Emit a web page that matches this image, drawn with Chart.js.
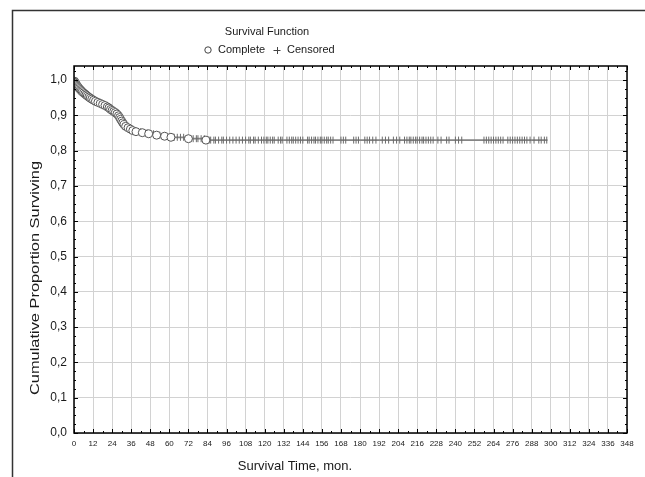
<!DOCTYPE html>
<html>
<head>
<meta charset="utf-8">
<script src="https://cdn.jsdelivr.net/npm/chart.js@4"></script>
<style>
  body { margin: 0; background: #fff; }
  canvas { display: block; }
</style>
</head>
<body>
<canvas id="chart" width="645" height="477"></canvas>
<script>
// complete (event) times in months and the survival estimate after each one
const eventTimes = [0.3, 0.6, 1, 1.4, 1.8, 2.3, 2.8, 3.3, 4, 4.6, 5.2, 6, 6.8, 7.6, 8.4, 9.3, 10.2, 11.2, 12.3, 13.5,
  15, 16.5, 18, 19.5, 21, 22, 23, 24, 25, 26, 27, 28, 28.7, 29.3, 30, 30.7, 31.5, 32.5, 34, 35.5,
  37, 39, 43, 47, 52, 57, 61, 72, 83];
const eventSurvival = [0.997, 0.994, 0.991, 0.988, 0.985, 0.982, 0.979, 0.976, 0.973, 0.970, 0.967, 0.964, 0.961, 0.958, 0.955, 0.952, 0.949, 0.946, 0.943, 0.940,
  0.937, 0.934, 0.931, 0.928, 0.924, 0.921, 0.917, 0.914, 0.911, 0.908, 0.904, 0.899, 0.894, 0.889, 0.884, 0.879, 0.874, 0.869, 0.865, 0.861,
  0.857, 0.854, 0.851, 0.848, 0.844, 0.841, 0.838, 0.834, 0.830];

// censored times in months
const censoredTimes = [42, 44, 46, 50, 54, 57, 61, 63, 65, 67, 69, 75, 77, 78, 80, 82, 85, 86, 88, 89, 91, 93, 94, 96, 98, 100,
  102, 104, 106, 108, 110, 111, 113, 114, 116, 118, 119.5, 121, 122, 123.5, 125, 126, 128.5, 130, 131,
  134, 135.5, 137, 138, 139.5, 141, 142.5, 144, 147, 148, 149.5, 151, 152, 153.5, 155, 156, 157.5, 159, 160, 161.5, 163,
  168, 169.5, 171, 176, 177.5, 179, 183, 184.5, 186, 188, 190, 194, 196, 198, 201, 203, 205,
  208, 209.5, 211, 212, 213.5, 215, 216, 217.5, 219, 220, 221.5, 223, 224.5, 226, 229, 231, 234.5, 236, 240, 242, 244,
  258, 259.5, 261, 262.5, 264, 265.5, 267, 268.5, 270, 273, 274.5, 276, 277.5, 279, 280.5, 282, 283.5, 285,
  287, 289.5, 292.5, 294, 296, 297.5];
const followUpEnd = 298;

const chartTitle = "Survival Function";
const legendLabels = ["Complete", "Censored"];
const xTitle = "Survival Time, mon.";
const yTitle = "Cumulative Proportion Surviving";

function survivalAt(t) {
  let s = 1;
  for (let i = 0; i < eventTimes.length; i++) {
    if (eventTimes[i] <= t) s = eventSurvival[i];
  }
  return s;
}

const curvePoints = [{ x: 0, y: 1 }]
  .concat(eventTimes.map((t, i) => ({ x: t, y: eventSurvival[i] })))
  .concat([{ x: followUpEnd, y: eventSurvival[eventSurvival.length - 1] }]);
const completePoints = eventTimes.map((t, i) => ({ x: t, y: eventSurvival[i] }));
const censoredPoints = censoredTimes.map(t => ({ x: t, y: survivalAt(t) }));

const FONT = "'Liberation Sans', Arial, sans-serif";
const TEXT = "#1a1a1a";

const decor = {
  id: "decor",
  beforeDraw(chart) {
    const ctx = chart.ctx;
    ctx.save();
    ctx.fillStyle = "#fff";
    ctx.fillRect(0, 0, chart.width, chart.height);
    ctx.strokeStyle = "#333";
    ctx.lineWidth = 1.5;
    ctx.strokeRect(12.5, 10.5, 700, 600);
    ctx.restore();
  },
  afterDraw(chart) {
    const { ctx, chartArea: a, scales: { x, y } } = chart;
    ctx.save();
    ctx.strokeStyle = "#000";
    ctx.lineWidth = 1;
    ctx.beginPath();
    for (let v = 0; v <= x.max; v += 6) {
      const px = Math.round(x.getPixelForValue(v)) + 0.5;
      const len = v % 12 === 0 ? 4 : 2;
      ctx.moveTo(px, a.bottom); ctx.lineTo(px, a.bottom - len);
      ctx.moveTo(px, a.top); ctx.lineTo(px, a.top + len);
    }
    for (let i = 0; i * 0.025 <= y.max; i++) {
      const py = Math.round(y.getPixelForValue(i * 0.025)) + 0.5;
      const len = i % 4 === 0 ? 4 : 2;
      ctx.moveTo(a.left, py); ctx.lineTo(a.left + len, py);
      ctx.moveTo(a.right, py); ctx.lineTo(a.right - len, py);
    }
    ctx.stroke();
    ctx.lineWidth = 1.5;
    ctx.strokeRect(a.left, a.top, a.right - a.left, a.bottom - a.top);

    // title and legend
    ctx.fillStyle = TEXT;
    ctx.font = "11px " + FONT;
    ctx.textAlign = "center";
    ctx.textBaseline = "middle";
    ctx.fillText(chartTitle, 267, 32);

    ctx.textAlign = "left";
    const ly = 50;
    ctx.beginPath();
    ctx.arc(208, ly, 3.2, 0, Math.PI * 2);
    ctx.fillStyle = "#fff"; ctx.fill();
    ctx.strokeStyle = "#444"; ctx.lineWidth = 1; ctx.stroke();
    ctx.fillStyle = TEXT;
    ctx.fillText(legendLabels[0], 218, ly);
    const px = 277;
    ctx.beginPath();
    ctx.moveTo(px - 3.5, ly + 0.5); ctx.lineTo(px + 3.5, ly + 0.5);
    ctx.moveTo(px + 0.5, ly - 3); ctx.lineTo(px + 0.5, ly + 4);
    ctx.strokeStyle = "#444"; ctx.stroke();
    ctx.fillText(legendLabels[1], 287, ly);

    // axis titles
    ctx.textAlign = "center";
    ctx.font = "13px " + FONT;
    ctx.fillText(xTitle, 295, 466);
    ctx.translate(35, 278);
    ctx.rotate(-Math.PI / 2);
    ctx.scale(1.26, 1);
    ctx.fillText(yTitle, 0, 0);
    ctx.restore();
  }
};

new Chart(document.getElementById("chart"), {
  type: "scatter",
  data: {
    datasets: [
      {
        label: legendLabels[0],
        data: completePoints,
        pointStyle: "circle",
        pointRadius: 4,
        pointBackgroundColor: "#fff",
        pointBorderColor: "#555",
        pointBorderWidth: 1,
        order: 0
      },
      {
        label: legendLabels[1],
        data: censoredPoints,
        pointStyle: "line",
        rotation: 90,
        pointRadius: 3.5,
        pointBorderColor: "#6a6a6a",
        pointBorderWidth: 1,
        order: 1
      },
      {
        label: "curve",
        data: curvePoints,
        showLine: true,
        stepped: true,
        borderColor: "#858585",
        borderWidth: 1.8,
        pointRadius: 0,
        order: 2
      }
    ]
  },
  options: {
    responsive: false,
    animation: false,
    layout: { padding: { top: 66, right: 18, left: 0, bottom: 0 } },
    plugins: {
      legend: { display: false },
      title: { display: false },
      tooltip: { enabled: false }
    },
    scales: {
      x: {
        type: "linear",
        min: 0,
        max: 348,
        afterFit(s) { s.height = 44; },
        grid: { color: "#d2d2d2", lineWidth: 1, drawTicks: false },
        border: { display: false },
        ticks: {
          stepSize: 12,
          autoSkip: false,
          maxRotation: 0,
          padding: 6,
          color: TEXT,
          font: { family: "'Liberation Sans Narrow', " + FONT, size: 8 }
        }
      },
      y: {
        min: 0,
        max: 1.04,
        afterFit(s) { s.width = 74; },
        grid: { color: "#d2d2d2", lineWidth: 1, drawTicks: false },
        border: { display: false },
        ticks: {
          stepSize: 0.1,
          includeBounds: false,
          padding: 7,
          color: TEXT,
          font: { family: FONT, size: 12 },
          callback: v => v.toFixed(1).replace(".", ",")
        }
      }
    }
  },
  plugins: [decor]
});
</script>
</body>
</html>
